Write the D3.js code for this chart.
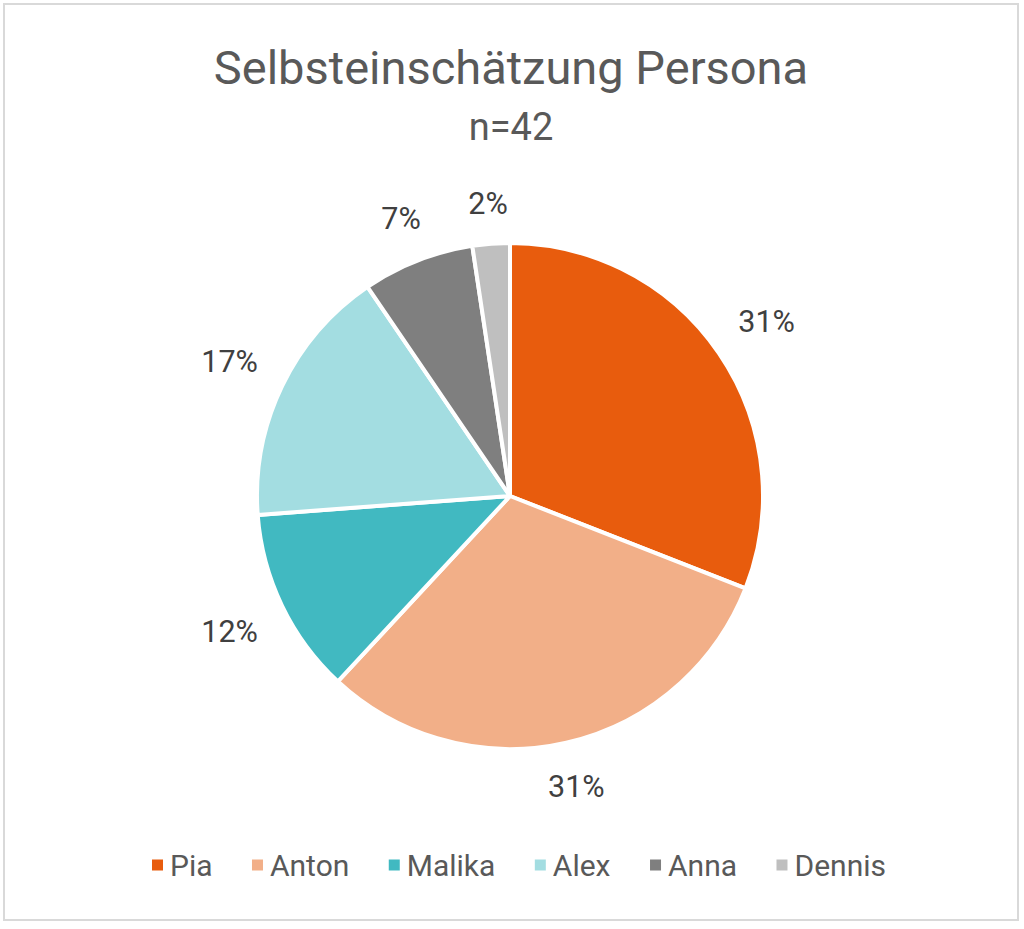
<!DOCTYPE html>
<html><head><meta charset="utf-8">
<script src="https://cdn.jsdelivr.net/npm/d3@7"></script>
<style>html,body{margin:0;padding:0;background:#fff;}svg{display:block;}</style>
</head><body>
<svg id="chart" width="1024" height="929"></svg>
<script>
const categories = ["Pia", "Anton", "Malika", "Alex", "Anna", "Dennis"];
const values = [13, 13, 5, 7, 3, 1];
const colors = ["#E85C0D", "#F2AF88", "#41B9C1", "#A3DDE1", "#7F7F7F", "#BFBFBF"];
const title = "Selbsteinschätzung Persona";
const subtitle = "n=42";

const svg = d3.select("#chart");
const font = "Roboto, 'Noto Sans', sans-serif";
const textColor = "#595959";

svg.append("rect").attr("x", 4).attr("y", 4).attr("width", 1014).attr("height", 916)
  .attr("fill", "#fff").attr("stroke", "#D9D9D9").attr("stroke-width", 2);

svg.append("text").attr("x", 511).attr("y", 84).attr("text-anchor", "middle")
  .attr("font-family", font).attr("font-size", 47).attr("fill", textColor).text(title);
svg.append("text").attr("x", 511).attr("y", 140).attr("text-anchor", "middle")
  .attr("font-family", font).attr("font-size", 38).attr("fill", textColor).text(subtitle);

const cx = 510, cy = 496, r = 253;
const total = d3.sum(values);
const data = categories.map((c, i) => ({ name: c, value: values[i], color: colors[i] }));
const pie = d3.pie().value(d => d.value).sort(null);
const arcs = pie(data);
const arc = d3.arc().innerRadius(0).outerRadius(r);

const g = svg.append("g").attr("transform", `translate(${cx},${cy})`);
g.selectAll("path").data(arcs).join("path")
  .attr("d", arc).attr("fill", d => d.data.color)
  .attr("stroke", "#fff").attr("stroke-width", 4).attr("stroke-linejoin", "round");

const labelSize = 30.5;
const labelGap = 28;
g.selectAll("text.lbl").data(arcs).join("text").attr("class", "lbl")
  .attr("text-anchor", "middle").attr("dy", "0.35em")
  .attr("font-family", font).attr("font-size", labelSize).attr("fill", "#404040")
  .text(d => Math.round(d.data.value / total * 100) + "%")
  .attr("transform", function (d) {
    const a = (d.startAngle + d.endAngle) / 2;
    const ux = Math.sin(a), uy = -Math.cos(a);
    const w = this.getBBox().width, h = labelSize * 0.72;
    const ext = Math.abs(ux) * w / 2 + Math.abs(uy) * h / 2;
    const dist = r + labelGap + ext;
    return `translate(${ux * dist},${uy * dist})`;
  });

// legend
const lg = svg.append("g");
const items = lg.selectAll("g").data(data).join("g");
items.append("rect").attr("width", 11).attr("height", 11).attr("y", -5.5).attr("fill", d => d.color);
items.append("text").attr("x", 18).attr("dy", "0.35em")
  .attr("font-family", font).attr("font-size", 30).attr("fill", textColor).text(d => d.name);
const widths = [];
items.each(function () { widths.push(this.getBBox().width); });
const legLeft = 152, legRight = 886;
const gap = (legRight - legLeft - d3.sum(widths)) / (widths.length - 1);
const offsets = [];
let x = legLeft;
widths.forEach(w => { offsets.push(x); x += w + gap; });
items.attr("transform", (d, i) => `translate(${offsets[i]},865)`);
</script>
</body></html>
